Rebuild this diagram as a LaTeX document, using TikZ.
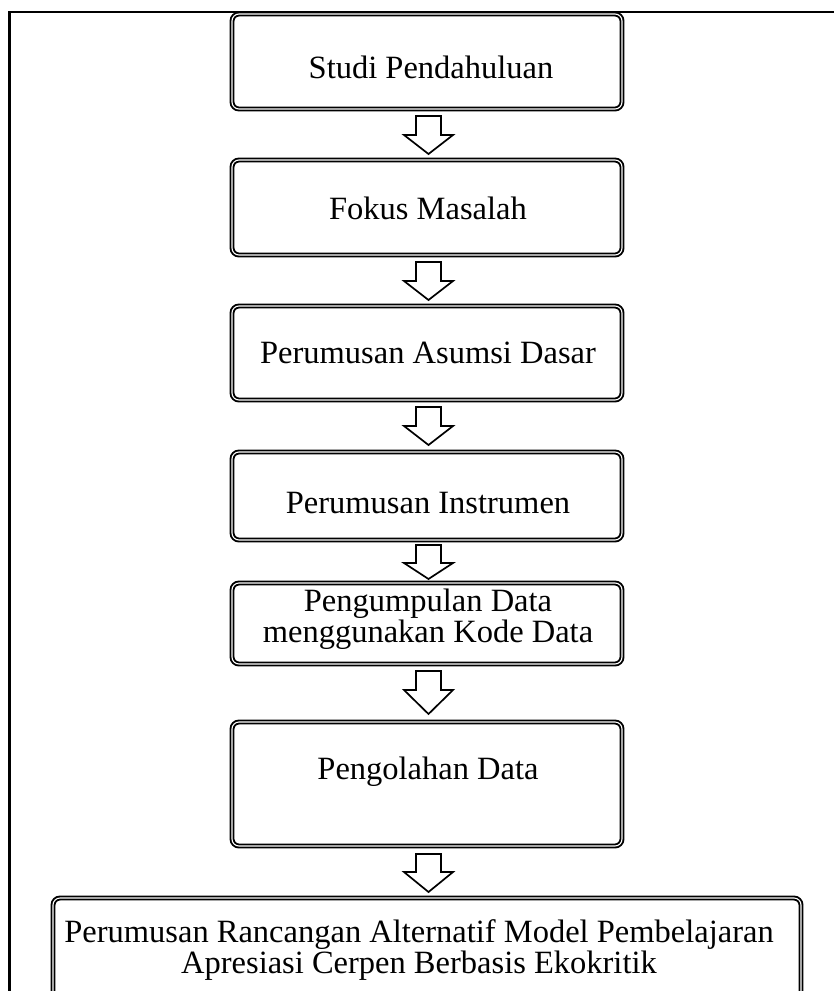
\documentclass[tikz,border=0pt]{standalone}
\usepackage{fontspec}
\setmainfont{Liberation Serif}
\begin{document}
\begin{tikzpicture}[x=1pt,y=-1pt,
  stepbox/.style={draw=black, line width=1.9pt, double=white, double distance=1.1pt, rounded corners=7pt, fill=white},
  flowarrow/.style={draw=black, line width=1.7pt, fill=white, line join=miter},
  every node/.style={font=\fontsize{32.5}{31}\selectfont, align=center, inner sep=0pt}]
\useasboundingbox (0,0) rectangle (834,991);
% outer frame
\draw[line width=2.6pt] (9.5,1100) -- (9.5,12) -- (900,12);
% boxes
\draw[stepbox] (232,14) rectangle (622,109);
\node (b1) at (431,67) {Studi Pendahuluan};
\draw[stepbox] (232,160) rectangle (622,255);
\node (b2) at (428,208) {Fokus Masalah};
\draw[stepbox] (232,306) rectangle (622,400);
\node (b3) at (428,353) {Perumusan Asumsi Dasar};
\draw[stepbox] (232,452) rectangle (622,540);
\node (b4) at (428,503) {Perumusan Instrumen};
\draw[stepbox] (232,583) rectangle (622,664);
\node (b5) at (428,619) {Pengumpulan Data\\menggunakan Kode Data};
\draw[stepbox] (232,722) rectangle (622,846);
\node (b6) at (428,772) {Pengolahan Data};
\draw[stepbox] (53,898) rectangle (801,1100);
\node (b7) at (419,950) {Perumusan Rancangan Alternatif Model Pembelajaran\\Apresiasi Cerpen Berbasis Ekokritik};
% arrows
\foreach \t/\h/\tip in {116/135/154, 262/281/300, 407/426/445, 545/563/579, 671/690/714, 854/872/892}{
  \draw[flowarrow] (416,\t) -- (441,\t) -- (441,\h) -- (453,\h) -- (428.5,\tip) -- (404,\h) -- (416,\h) -- cycle;
}
\end{tikzpicture}
\end{document}
